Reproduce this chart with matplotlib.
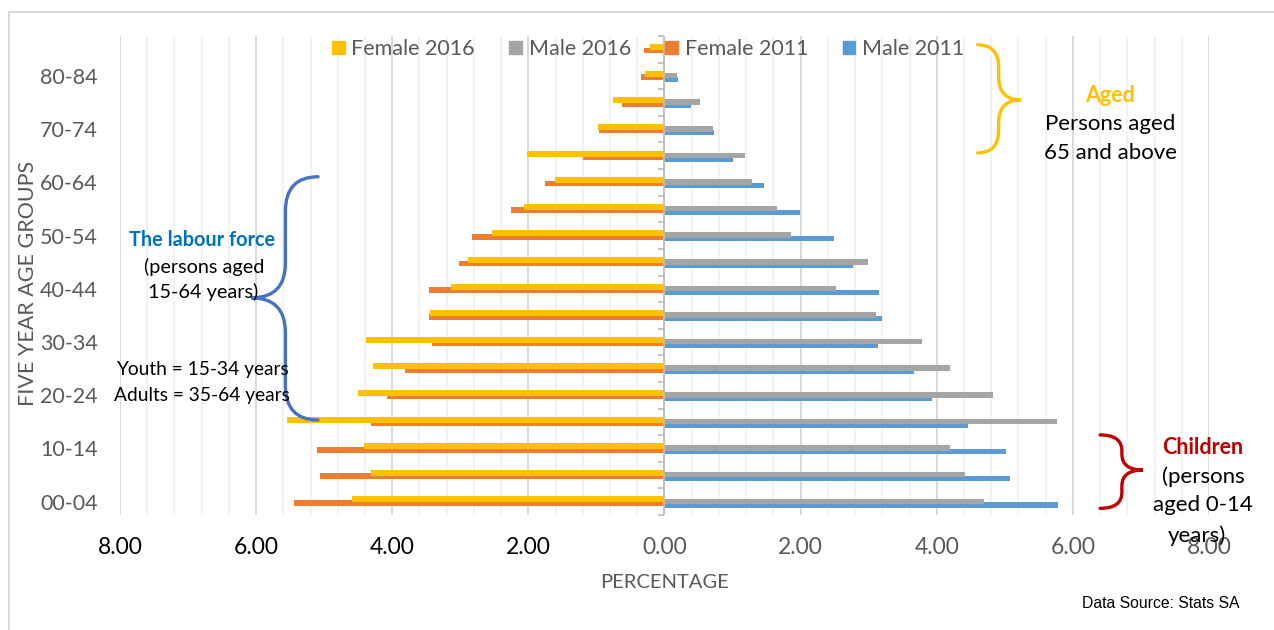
import numpy as np
import matplotlib
matplotlib.use("Agg")
import matplotlib.pyplot as plt
from matplotlib.path import Path
from matplotlib.patches import PathPatch, Rectangle, Patch

plt.rcParams['font.family'] = ['Lato', 'DejaVu Sans']

# five-year age groups, youngest first
age_groups = ['00-04', '05-09', '10-14', '15-19', '20-24', '25-29', '30-34', '35-39',
              '40-44', '45-49', '50-54', '55-59', '60-64', '65-69', '70-74', '75-79',
              '80-84', '85+']

# share of population (%)
female_2016 = [4.59, 4.31, 4.41, 5.55, 4.50, 4.28, 4.39, 3.44, 3.13, 2.89, 2.54, 2.07,
               1.61, 2.02, 0.97, 0.75, 0.28, 0.21]
female_2011 = [5.44, 5.06, 5.10, 4.31, 4.07, 3.82, 3.41, 3.46, 3.46, 3.02, 2.83, 2.25,
               1.75, 1.20, 0.96, 0.62, 0.34, 0.30]
male_2016 = [4.69, 4.42, 4.19, 5.77, 4.82, 4.20, 3.79, 3.11, 2.52, 2.99, 1.86, 1.65,
             1.29, 1.18, 0.71, 0.52, 0.18, 0.12]
male_2011 = [5.78, 5.07, 5.02, 4.46, 3.93, 3.66, 3.13, 3.19, 3.15, 2.77, 2.49, 1.99,
             1.46, 1.00, 0.73, 0.39, 0.20, 0.17]

x_ticks = [-8, -6, -4, -2, 0, 2, 4, 6, 8]

YELLOW = '#FFC000'
ORANGE = '#ED7D31'
GREY = '#A5A5A5'
BLUE = '#5B9BD5'
TXT = '#595959'

W, H = 1274, 630
fig = plt.figure(figsize=(W / 100, H / 100), dpi=100)
ax = fig.add_axes([120 / W, 1 - 515 / H, 1089 / W, 479 / H])

y = np.arange(len(age_groups))
fem16 = -np.array(female_2016)
fem11 = -np.array(female_2011)

# 2011 bars sit slightly lower, 2016 bars overlap them from above
ax.barh(y - 0.047, fem11, height=0.214, color=ORANGE, zorder=3)
ax.barh(y + 0.083, fem16, height=0.225, color=YELLOW, zorder=4)
ax.barh(y - 0.124, male_2011, height=0.19, color=BLUE, zorder=3)
ax.barh(y + 0.015, male_2016, height=0.21, color=GREY, zorder=4)

ax.set_xlim(-8, 8)
ax.set_ylim(-0.5, len(age_groups) - 0.5)

# vertical grid: major every 2, minor every 0.4
ax.set_xticks(x_ticks)
ax.set_xticks(np.arange(-8, 8.01, 0.4), minor=True)
ax.grid(axis='x', which='major', color='#D9D9D9', lw=1.4, zorder=0)
ax.grid(axis='x', which='minor', color='#EFEFEF', lw=1.1, zorder=0)
ax.tick_params(axis='x', which='both', length=0, pad=16, labelsize=16.5)
ax.set_xticklabels(['%.2f' % abs(v) for v in x_ticks])
for lab, v in zip(ax.get_xticklabels(), x_ticks):
    lab.set_color('black' if v < 0 else TXT)

ax.set_yticks(y[::2])
ax.set_yticklabels(age_groups[::2], color=TXT, fontsize=15.5)
ax.tick_params(axis='y', length=0, pad=16)
for s in ax.spines.values():
    s.set_visible(False)

# category axis at zero with small boundary ticks
ax.axvline(0, color='#BFBFBF', lw=1.3, zorder=5)
ax.hlines(np.arange(len(age_groups) + 1) - 0.5, -0.1, 0, color='#BFBFBF', lw=1.3,
          zorder=5, clip_on=False)

fig.text(665 / W, 1 - 583 / H, 'PERCENTAGE', ha='center', va='center', color=TXT, fontsize=14.5)
fig.text(28 / W, 1 - 283 / H, 'FIVE YEAR AGE GROUPS', ha='center', va='center',
         rotation=90, color=TXT, fontsize=15.5)

handles = [Patch(color=YELLOW, label='Female 2016'), Patch(color=GREY, label='Male 2016'),
           Patch(color=ORANGE, label='Female 2011'), Patch(color=BLUE, label='Male 2011')]
leg = fig.legend(handles=handles, loc='center', bbox_to_anchor=(648 / W, 1 - 49 / H), ncol=4,
                 frameon=False, fontsize=15.5, handlelength=0.6, handleheight=0.6,
                 handletextpad=0.3, columnspacing=1.6)
for t in leg.get_texts():
    t.set_color(TXT)


def brace(xe, xm, xt, yt, yb, ym, r, color):
    verts = [(xe, yt), (xm, yt), (xm, yt - r), (xm, ym + r), (xm, ym), (xt, ym),
             (xm, ym), (xm, ym - r), (xm, yb + r), (xm, yb), (xe, yb)]
    codes = [Path.MOVETO, Path.CURVE3, Path.CURVE3, Path.LINETO, Path.CURVE3, Path.CURVE3,
             Path.CURVE3, Path.CURVE3, Path.LINETO, Path.CURVE3, Path.CURVE3]
    ax.add_patch(PathPatch(Path(verts, codes), fill=False, ec=color, lw=2.4,
                           capstyle='round', zorder=8, clip_on=False))


brace(-5.09, -5.57, -6.07, 12.21, 3.07, 7.66, 1.3, '#4472C4')
brace(4.60, 4.91, 5.24, 17.17, 13.11, 15.1, 0.85, YELLOW)
brace(6.40, 6.72, 7.03, 2.51, -0.25, 1.19, 0.6, '#C00000')


def note(px, py, s, **kw):
    kw.setdefault('ha', 'center')
    fig.text(px / W, 1 - py / H, s, va='center', **kw)


note(202, 240, 'The labour force', color='#0070C0', fontsize=14.3, fontweight='bold')
note(204, 267, '(persons aged', fontsize=14.3)
note(203, 292, '15-64 years)', fontsize=14.3)
note(116, 369, 'Youth = 15-34 years', ha='left', fontsize=13.8)
note(114, 396, 'Adults = 35-64 years', ha='left', fontsize=13.8)
note(1110, 95, 'Aged', color=YELLOW, fontsize=15.5, fontweight='bold')
note(1110, 124, 'Persons aged', fontsize=16)
note(1110, 153, '65 and above', fontsize=16)
note(1203, 448, 'Children', color='#C00000', fontsize=15.5, fontweight='bold')
note(1203, 477, '(persons', fontsize=16)
note(1203, 505, 'aged 0-14', fontsize=16)
note(1197, 536, 'years)', fontsize=16)
note(1240, 604, 'Data Source: Stats SA', ha='right', family='Liberation Sans', fontsize=11.3)

# chart area border
fig.patches.append(Rectangle((9 / W, -0.1), 1.2, 0.1 + 1 - 12 / H, transform=fig.transFigure,
                             fill=False, ec='#D9D9D9', lw=1.4))

fig.savefig('out.png', dpi=100)
